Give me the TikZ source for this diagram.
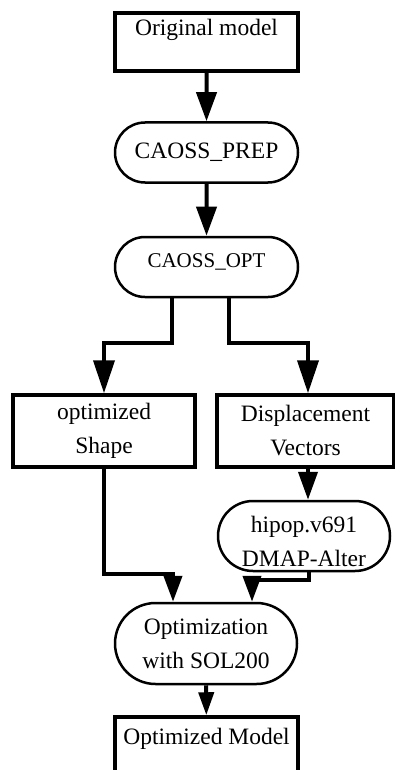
\documentclass[tikz,border=0pt]{standalone}
\usepackage{fontspec}
\setmainfont{Liberation Serif}
\usetikzlibrary{shapes.misc,arrows.meta,positioning,calc}

\begin{document}
\begin{tikzpicture}[
    x=1pt, y=-1pt,
    every node/.style={font=\fontsize{23.5}{34}\selectfont, align=center, inner sep=0pt},
    sqbox/.style={draw, line width=3.5pt, minimum width=182, minimum height=72},
    rbox/.style={draw, line width=2.5pt, rounded rectangle, minimum width=183, minimum height=60},
    arr/.style={line width=4pt, -{Triangle[length=29pt, width=20pt]}}
]
\useasboundingbox (0,0) rectangle (395,770);
\clip (0,0) rectangle (395,770);

% main column
\node[sqbox, minimum width=183, minimum height=58,
      label={[anchor=north, inner sep=0pt, yshift=-8pt]north:Original model}] (orig) at (206.5,42) {};
\node[rbox] (prep) at (206.5,152.5) {CAOSS\_PREP};
\node[rbox, font=\fontsize{21}{30}\selectfont, text depth=13pt] (opt) at (206.5,267) {CAOSS\_OPT};

% the two branches
\node[sqbox] (shape) at (104,431) {optimized\\Shape};
\node[sqbox, minimum width=177] (disp) at (305.5,431) {Displacement\\Vectors};
\node[rbox, minimum width=172, minimum height=70, text height=62pt] (hipop) at (304,536) {hipop.v691\\DMAP-Alter};

% solver and result
\node[rbox, minimum width=182, minimum height=81] (optim) at (206,643.5) {Optimization\\with SOL200};
\node[sqbox, minimum width=183, minimum height=80,
      label={[anchor=north, inner sep=0pt, yshift=-13pt]north:Optimized Model}] (final) at (206.5,757) {};

\draw[arr] (orig) -- (prep);
\draw[arr] (prep) -- (opt);
\draw[arr, -{Triangle[length=33pt, width=21pt]}] ([xshift=-34.5]opt.south) -- ++(0,45) -| (shape.north);
\draw[arr, -{Triangle[length=33pt, width=21pt]}] ([xshift=22.5]opt.south) -- ++(0,45) -| ([xshift=2.5]disp.north);
\draw[arr, -{Triangle[length=28pt, width=19pt]}] ([xshift=2.5]disp.south) -- ([xshift=2.5]disp.south |- hipop.north);
\draw[arr, -{Triangle[length=26pt, width=18pt]}] (shape.south) -- ++(0,105) -| ([xshift=-33]optim.north);
\draw[arr, -{Triangle[length=26pt, width=18pt]}] ([xshift=5]hipop.south) -- ++(0,8) -| ([xshift=46]optim.north);
\draw[arr, -{Triangle[length=23pt, width=15pt]}] (optim) -- (final);
\end{tikzpicture}
\end{document}
